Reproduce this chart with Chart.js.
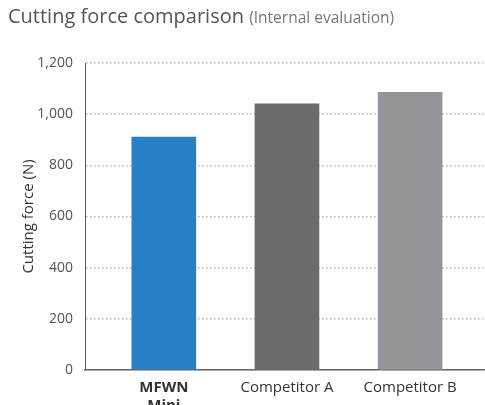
<!DOCTYPE html>
<html>
<head>
<meta charset="utf-8">
<script src="https://cdn.jsdelivr.net/npm/chart.js@4/dist/chart.umd.min.js"></script>
<style>
  body { margin: 0; background: #fff; overflow: hidden; width: 485px; height: 405px; position: relative; }
  #title { position: absolute; left: 8px; top: 2px; font-family: "Open Sans", sans-serif; font-size: 20px; color: #555; white-space: nowrap; }
  #title span { font-size: 15.5px; color: #777; }
  #wrap { position: absolute; left: 0; top: 0; width: 485px; height: 425px; }
</style>
</head>
<body>
<div id="wrap"><canvas id="forceChart"></canvas></div>
<div id="title">Cutting force comparison <span>(Internal evaluation)</span></div>
<script>
const categories = [["MFWN", "Mini"], "Competitor A", "Competitor B"];
const forceValues = [910, 1040, 1085];
const barColors = ["#2780c6", "#6b6b6f", "#959599"];
const yTicks = [0, 200, 400, 600, 800, 1000, 1200];

const fontFamily = '"Open Sans", sans-serif';

const ctx = document.getElementById("forceChart");

new Chart(ctx, {
  type: "bar",
  data: {
    datasets: [{
      data: forceValues.map((v, i) => ({ x: i, y: v })),
      backgroundColor: barColors,
      barThickness: 64
    }]
  },
  options: {
    responsive: true,
    maintainAspectRatio: false,
    animation: false,
    layout: { padding: { top: 63, right: 1, left: 0, bottom: 0 } },
    plugins: {
      legend: { display: false },
      tooltip: { enabled: false }
    },
    scales: {
      x: {
        type: "linear",
        offset: false,
        min: -0.64,
        max: 2.6,
        grid: { display: false, drawTicks: false },
        border: { display: true, color: "#666", width: 1.5 },
        afterBuildTicks: (scale) => {
          scale.ticks = categories.map((c, i) => ({ value: i }));
        },
        afterFit: (scale) => { scale.height = 55; },
        ticks: {
          autoSkip: false,
          maxRotation: 0,
          padding: 9,
          color: "#333",
          font: (c) => ({ family: fontFamily, size: 15, weight: c.index === 0 ? "bold" : "normal" }),
          callback: (value) => categories[value]
        }
      },
      y: {
        min: 0,
        max: 1200,
        afterBuildTicks: (scale) => {
          scale.ticks = yTicks.map((v) => ({ value: v }));
        },
        afterFit: (scale) => { scale.width = 85; },
        grid: { color: "#b5b5b5", lineWidth: 1.5, drawTicks: false },
        border: { display: true, color: "#555", width: 1, dash: [1.5, 2.5] },
        ticks: {
          padding: 12,
          color: "#555",
          font: { family: fontFamily, size: 14 },
          callback: (value) => value.toLocaleString("en-US")
        },
        title: {
          display: true,
          text: "Cutting force (N)",
          color: "#333",
          font: { family: fontFamily, size: 15 },
          padding: { top: 20, bottom: 0 }
        }
      }
    }
  }
});
</script>
</body>
</html>
